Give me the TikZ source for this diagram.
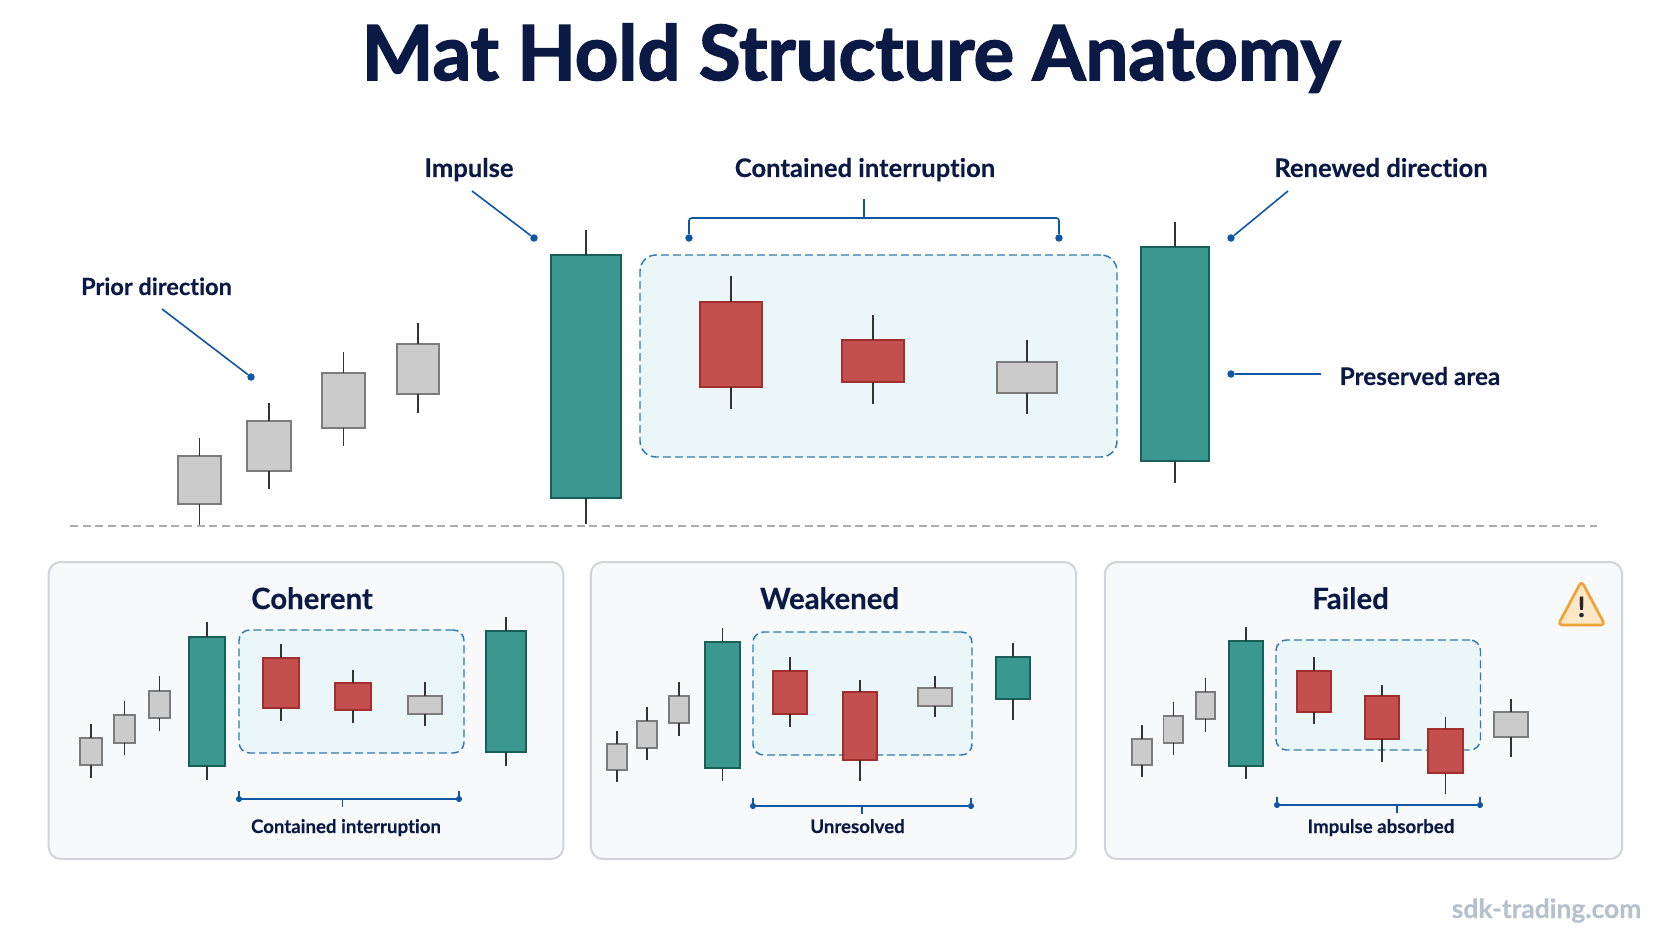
\documentclass[tikz,border=0pt]{standalone}
\usepackage{fontspec}
\setmainfont[RawFeature={-liga},BoldFeatures={FakeBold=0.25}]{Lato}
\newfontfamily\heavyfont[RawFeature={-liga},BoldFeatures={FakeBold=2}]{Lato}
\usepackage{tikz}
\definecolor{navy}{HTML}{0B1A45}
\definecolor{leadblue}{HTML}{0F56A3}
\definecolor{tealfill}{HTML}{3A9890}
\definecolor{tealline}{HTML}{17605A}
\definecolor{redfill}{HTML}{C44F4F}
\definecolor{redline}{HTML}{A32E2E}
\definecolor{grayfill}{HTML}{CBCBCB}
\definecolor{grayline}{HTML}{7C7C7C}
\definecolor{zonefill}{HTML}{EBF6F8}
\definecolor{zoneline}{HTML}{2F7BAE}
\definecolor{panelfill}{HTML}{F8F9FB}
\definecolor{panelline}{HTML}{D0D3D9}
\definecolor{warnline}{HTML}{F0A238}
\definecolor{warnfill}{HTML}{FCE8C6}
\definecolor{marktext}{HTML}{B5C1CD}
\tikzstyle{body}=[rectangle,inner sep=0pt,outer sep=0pt,line width=1.1pt,anchor=center]
\tikzstyle{upbar}=[body,fill=tealfill,draw=tealline]
\tikzstyle{downbar}=[body,fill=redfill,draw=redline]
\tikzstyle{flatbar}=[body,fill=grayfill,draw=grayline]
\tikzstyle{wick}=[draw=black!80,line width=1.1pt]
\tikzstyle{zone}=[rectangle,inner sep=0pt,outer sep=0pt,fill=zonefill,draw=zoneline,line width=1.1pt,dash pattern=on 6pt off 3pt]
\tikzstyle{panelbox}=[rectangle,rounded corners=9pt,inner sep=0pt,fill=panelfill,draw=panelline,line width=1.5pt]
\tikzstyle{dot}=[circle,fill=leadblue,minimum size=5.6pt,inner sep=0pt]
\tikzstyle{leader}=[draw=leadblue,line width=1.2pt]
\tikzstyle{annot}=[anchor=base,text=navy,inner sep=0pt,font=\fontsize{19.2}{21}\selectfont\bfseries]
\tikzstyle{smallannot}=[annot,font=\fontsize{14}{16}\selectfont\bfseries]
\tikzstyle{paneltitle}=[annot,font=\fontsize{22}{24}\selectfont\bfseries]
% name, style, left, right, top, bottom, wick top, wick bottom
\newcommand{\candle}[8]
{
	\node[#2, minimum width={(#4-#3)*0.75pt}, minimum height={(#6-#5)*0.75pt}](#1) at ({(#3+#4)/2},{(#5+#6)/2}){};
	\coordinate (#1 hi) at ({(#3+#4)/2},#7);
	\coordinate (#1 lo) at ({(#3+#4)/2},#8);
	\draw[wick] (#1 hi) -- (#1.north);
	\draw[wick] (#1.south) -- (#1 lo);
}
\newcommand{\zonebox}[5]
{
	\node[zone, rounded corners=#5pt, minimum width={(#2-#1)*0.75pt}, minimum height={(#4-#3)*0.75pt}] at ({(#1+#2)/2},{(#3+#4)/2}){};
}
% name, left, right, middle, height
\newcommand{\spanbar}[5]
{
	\node[dot, minimum size=4.6pt](#1 l) at (#2,#5){};
	\node[dot, minimum size=4.6pt](#1 r) at (#3,#5){};
	\coordinate (#1 lt) at (#2,#5-8);
	\coordinate (#1 rt) at (#3,#5-8);
	\coordinate (#1 m) at (#4,#5);
	\coordinate (#1 mt) at (#4,#5+8);
	\draw[leader] (#1 l) -- (#1 r);
	\draw[leader, line width=0.8pt] (#1 lt) -- (#1 l);
	\draw[leader, line width=0.8pt] (#1 rt) -- (#1 r);
	\draw[leader, line width=0.8pt] (#1 m) -- (#1 mt);
}
\begin{document}
\begin{tikzpicture}[x=0.75pt,y=-0.75pt]
	\path[use as bounding box, fill=white] (0,0) rectangle (1672,941);

	\node[annot, font=\heavyfont\fontsize{57}{60}\selectfont\bfseries](title) at (851,80) {Mat Hold Structure Anatomy};

	% top chart
	\zonebox{640}{1117}{255}{457}{12}
	\candle{p1}{flatbar}{178}{221}{456}{504}{438}{526}
	\candle{p2}{flatbar}{247}{291}{421}{471}{403}{489}
	\candle{p3}{flatbar}{322}{365}{373}{428}{352}{446}
	\candle{p4}{flatbar}{397}{439}{344}{394}{323}{413}
	\candle{impulse}{upbar}{551}{621}{255}{498}{230}{524}
	\candle{i1}{downbar}{700}{762}{302}{387}{276}{409}
	\candle{i2}{downbar}{842}{904}{340}{382}{315}{404}
	\candle{i3}{flatbar}{997}{1057}{362}{393}{340}{414}
	\candle{renewed}{upbar}{1141}{1209}{247}{461}{222}{483}

	\coordinate (sepl) at (70,526);
	\coordinate (sepr) at (1597,526);
	\draw[draw=black!32, line width=1.1pt, dash pattern=on 6pt off 3.5pt] (sepl) -- (sepr);

	% callouts
	\node[annot, font=\fontsize{17.7}{20}\selectfont\bfseries](prior) at (156.5,295) {Prior direction};
	\node[annot](impulselabel) at (469,177) {Impulse};
	\node[annot](contained) at (865,177) {Contained interruption};
	\node[annot](renewedlabel) at (1381,177) {Renewed direction};
	\node[annot, font=\fontsize{18.2}{20}\selectfont\bfseries](preserved) at (1420,385) {Preserved area};

	\node[dot](priordot) at (251,377){};
	\coordinate (priorstart) at (162,309);
	\draw[leader] (priorstart) -- (priordot);
	\node[dot](impulsedot) at (534,238){};
	\coordinate (impulsestart) at (472,191);
	\draw[leader] (impulsestart) -- (impulsedot);
	\node[dot](renewdot) at (1231,238){};
	\coordinate (renewstart) at (1288,191);
	\draw[leader] (renewstart) -- (renewdot);
	\node[dot](keepdot) at (1231,374){};
	\coordinate (keepend) at (1321,374);
	\draw[leader] (keepdot) -- (keepend);

	\node[dot](contl) at (689,238){};
	\node[dot](contr) at (1059,238){};
	\coordinate (contlc) at (689,218);
	\coordinate (contrc) at (1059,218);
	\coordinate (contm) at (864,218);
	\coordinate (contt) at (864,199);
	\draw[leader, rounded corners=2pt] (contl) -- (contlc) -- (contrc) -- (contr);
	\draw[leader, line width=0.8pt] (contm) -- (contt);

	% coherent
	\node[panelbox, minimum width=386pt, minimum height=222.7pt](coherent) at (306,710.5){};
	\node[paneltitle](coherenttitle) at (312,609) {Coherent};
	\zonebox{239}{464}{630}{753}{8}
	\candle{a1}{flatbar}{80}{102}{738}{765}{724}{778}
	\candle{a2}{flatbar}{114}{135}{715}{743}{701}{755}
	\candle{a3}{flatbar}{149}{170}{691}{718}{676}{731}
	\candle{a4}{upbar}{189}{225}{637}{766}{622}{780}
	\candle{a5}{downbar}{263}{299}{658}{708}{644}{721}
	\candle{a6}{downbar}{335}{371}{683}{710}{670}{723}
	\candle{a7}{flatbar}{408}{442}{696}{714}{682}{726}
	\candle{a8}{upbar}{486}{526}{631}{752}{617}{766}
	\spanbar{abar}{239}{459}{342.5}{799}
	\node[smallannot](abarlabel) at (346,833) {Contained interruption};

	% weakened
	\node[panelbox, minimum width=364pt, minimum height=222.7pt](weakened) at (833.5,710.5){};
	\node[paneltitle](weakenedtitle) at (829.5,609) {Weakened};
	\zonebox{753}{972}{632}{755}{8}
	\candle{b1}{flatbar}{607}{627}{744}{770}{731}{782}
	\candle{b2}{flatbar}{637}{657}{721}{748}{707}{760}
	\candle{b3}{flatbar}{669}{689}{696}{723}{682}{736}
	\candle{b4}{upbar}{705}{740}{642}{768}{628}{781}
	\candle{b5}{downbar}{773}{807}{671}{714}{657}{727}
	\candle{b6}{downbar}{843}{877}{692}{760}{680}{781}
	\candle{b7}{flatbar}{918}{952}{688}{706}{676}{717}
	\candle{b8}{upbar}{996}{1030}{657}{699}{643}{720}
	\spanbar{bbar}{753}{971}{862}{806}
	\node[smallannot](bbarlabel) at (857.5,833) {Unresolved};

	% failed
	\node[panelbox, minimum width=388pt, minimum height=222.7pt](failed) at (1363.5,710.5){};
	\node[paneltitle](failedtitle) at (1350.5,609) {Failed};
	\zonebox{1276}{1480.5}{640}{750}{8}
	\candle{c1}{flatbar}{1132}{1152}{739}{765}{725}{777}
	\candle{c2}{flatbar}{1163.5}{1183}{716}{743}{702}{755}
	\candle{c3}{flatbar}{1196}{1215}{692}{719}{678}{732}
	\candle{c4}{upbar}{1229}{1263}{641}{766}{627}{779}
	\candle{c5}{downbar}{1297}{1331}{671}{712}{657}{724}
	\candle{c6}{downbar}{1365}{1399}{696}{739}{685}{762}
	\candle{c7}{downbar}{1428}{1463}{729}{773}{717}{794}
	\candle{c8}{flatbar}{1494}{1528}{712}{737}{699}{757}
	\spanbar{cbar}{1277}{1480}{1397}{805}
	\node[smallannot](cbarlabel) at (1381,833) {Impulse absorbed};

	\draw[draw=warnline, fill=warnfill, line width=2pt, rounded corners=3pt, line join=round] (1581.5,581) -- (1605,625) -- (1558,625) -- cycle;
	\node[annot, text=black!85, font=\fontsize{21}{22}\selectfont\bfseries](warnmark) at (1581.5,617) {!};

	\node[annot, text=marktext, font=\fontsize{19.8}{22}\selectfont\bfseries](site) at (1546.5,918) {sdk-trading.com};
\end{tikzpicture}
\end{document}
